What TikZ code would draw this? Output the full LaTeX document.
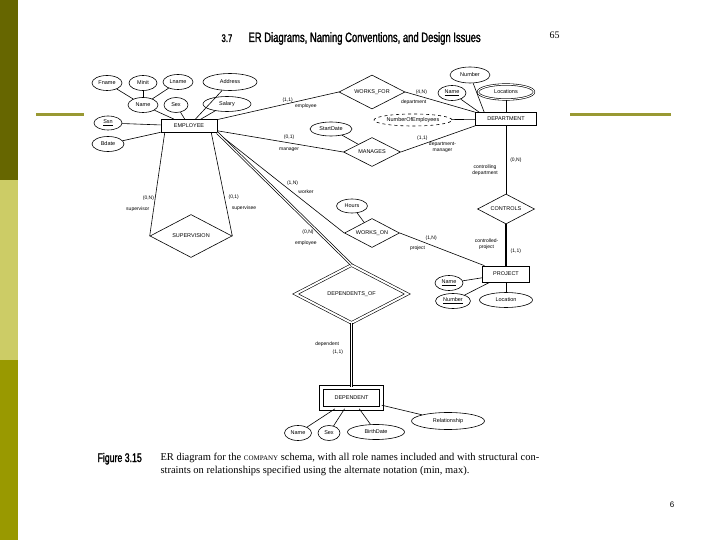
\documentclass[tikz,border=0pt]{standalone}
\usepackage{fontspec}
\setmainfont{Liberation Serif}
\setsansfont{Liberation Sans}
\newfontfamily\headfont[FakeStretch=0.7,FakeBold=1.5]{Liberation Sans}
\usetikzlibrary{shapes.geometric,positioning}
\definecolor{bardark}{HTML}{666600}
\definecolor{barlight}{HTML}{CCCC66}
\definecolor{barmid}{HTML}{999900}
\definecolor{rulecol}{HTML}{999933}

\begin{document}
\begin{tikzpicture}[
    x=1pt, y=-1pt,
    entity/.style={rectangle, draw, line width=0.6pt, inner sep=0pt, minimum width=#1, minimum height=13pt, font=\sffamily\fontsize{5.5}{6}\selectfont},
    attrib/.style={ellipse, draw, line width=0.6pt, inner sep=0pt, minimum width=#1, minimum height=15pt, font=\sffamily\fontsize{5.5}{6}\selectfont},
    relation/.style 2 args={diamond, aspect=2, draw, line width=0.6pt, inner sep=0pt, minimum width=#1, minimum height=#2, font=\sffamily\fontsize{5.5}{6}\selectfont},
    role/.style={font=\sffamily\fontsize{5}{6}\selectfont, inner sep=1pt},
    link/.style={line width=0.6pt},
    twolink/.style={line width=1pt, double, double distance=1.2pt}
]
\useasboundingbox (0,0) rectangle (720,540);
\fill[white] (0,0) rectangle (720,540);

% slide frame
\fill[bardark] (0,0) rectangle (18,180);
\fill[barlight] (0,180) rectangle (18,360);
\fill[barmid] (0,360) rectangle (18,540);
\draw[rulecol, line width=3pt] (36,114.5) -- (84,114.5);
\draw[rulecol, line width=3pt] (570,114.5) -- (671,114.5);

% page head
\node[anchor=base west, font=\headfont\fontsize{11}{12}\selectfont] (secnum) at (218,42) {3.7};
\node[anchor=base west, font=\headfont\fontsize{13.5}{14}\selectfont] (sectitle) at (245,42) {ER Diagrams, Naming Conventions, and Design Issues};
\node[anchor=base west, font=\rmfamily\fontsize{10}{12}\selectfont] (pageno) at (546,39) {65};

% EMPLOYEE
\node[entity=56] (emp) at (189,126) {EMPLOYEE};
\node[attrib=30] (fname) at (107,83) {Fname};
\node[attrib=28] (minit) at (143,83) {Minit};
\node[attrib=30] (lname) at (178,82) {Lname};
\node[attrib=54, minimum height=17pt] (address) at (230,82) {Address};
\node[attrib=30] (ename) at (143,105) {Name};
\node[attrib=24] (esex) at (176,105) {Sex};
\node[attrib=48] (salary) at (227,104) {Salary};
\node[attrib=28, minimum height=14pt] (ssn) at (108,123) {\underline{Ssn}};
\node[attrib=32] (bdate) at (108,144) {Bdate};

\draw[link] (fname) -- (ename);
\draw[link] (minit) -- (ename);
\draw[link] (lname) -- (ename);
\draw[link] (ename) -- (emp);
\draw[link] (esex) -- (emp);
\draw[link] (address) -- (emp);
\draw[link] (salary) -- (emp);
\draw[link] (ssn) -- (emp);
\draw[link] (bdate) -- (emp);

% DEPARTMENT
\node[entity=61] (dept) at (506,119) {DEPARTMENT};
\node[attrib=40, minimum height=16pt] (dnumber) at (470,75) {Number};
\node[attrib=28] (dname) at (452,93) {\underline{Name}};
\node[attrib=56, double, double distance=1pt] (locations) at (506,92) {Locations};
\node[attrib=78, minimum height=12pt, dashed] (numemp) at (413,120) {NumberOfEmployees};

\draw[link] (dnumber) -- ([xshift=9pt]dept.north west);
\draw[link] (dname) -- ([xshift=4pt]dept.north west);
\draw[link] (locations) -- (dept);
\draw[link] (numemp) -- (dept);

% relationships
\node[relation={66}{34}] (worksfor) at (372,92) {WORKS\_FOR};
\node[relation={57}{29}] (manages) at (372,152) {MANAGES};
\node[relation={57}{30}] (controls) at (506,209) {CONTROLS};
\node[relation={55}{29}] (workson) at (372,233) {WORKS\_ON};
\node[relation={82}{43}] (supervision) at (191,236) {SUPERVISION};
\node[relation={112}{58}, double, double distance=2pt] (depof) at (351.5,294) {DEPENDENTS\_OF};
\node[attrib=42, minimum height=14pt] (startdate) at (331,129) {StartDate};
\node[attrib=31, minimum height=14pt] (hours) at (352,206) {Hours};

\draw[link] (startdate) -- (manages);
\draw[link] (hours) -- (workson);

% PROJECT
\node[entity=47, minimum height=16pt] (proj) at (506,274) {PROJECT};
\node[attrib=28] (pname) at (449,283) {\underline{Name}};
\node[attrib=35] (pnumber) at (453,301) {\underline{Number}};
\node[attrib=53] (plocation) at (506,300) {Location};

\draw[link] (pname) -- (proj);
\draw[link] (pnumber) -- (proj);
\draw[link] (plocation) -- (proj);

% DEPENDENT
\node[entity=60, minimum height=21pt, double, double distance=3pt] (dep) at (351.5,398) {DEPENDENT};
\node[attrib=27] (dpname) at (298,433) {Name};
\node[attrib=22] (dpsex) at (329,433) {Sex};
\node[attrib=57] (birth) at (376,432) {BirthDate};
\node[attrib=73, minimum height=17pt] (relship) at (448,421) {Relationship};

\draw[link] (dpname) -- (dep);
\draw[link] (dpsex) -- (dep);
\draw[link] (birth) -- (dep);
\draw[link] (relship) -- (dep);

% role names and (min,max)
\draw[link] (emp) -- node[role, pos=0.58, above] {(1,1)} node[role, pos=0.73, below=3pt] {employee} (worksfor.west);
\draw[link] (worksfor.east) -- node[role, pos=0.23, above=1pt] {(4,N)} node[role, pos=0.12, below=4pt] {department} (dept.north west);
\draw[link] (emp) -- node[role, pos=0.57, above=2pt] {(0,1)} node[role, pos=0.57, below=4pt] {manager} (manages.west);
\draw[link] (manages.east) -- node[role, pos=0.29, above=3pt] {(1,1)} node[role, pos=0.56, below=3pt, align=center] {department-\\manager} (dept.south west);
\draw[link] (dept) -- node[role, pos=0.5, right=3pt] {(0,N)} node[role, pos=0.65, left=7pt, align=center] {controlling\\department} (controls);
\draw[link, line width=1.4pt] (controls) -- node[role, pos=0.48, left=6pt, align=center] {controlled-\\project} node[role, pos=0.64, right=3pt] {(1,1)} (proj);
\draw[link] (emp.south east) -- node[role, pos=0.5, right=5pt] {(1,N)} node[role, pos=0.59, right=5pt] {worker} (workson.west);
\draw[link] (workson.east) -- node[role, pos=0.37, above=3pt] {(1,N)} node[role, pos=0.21, below=5pt] {project} (proj);
\draw[twolink, line width=0.7pt] (emp.south east) -- node[role, pos=0.75, left=3pt] {(0,N)} node[role, pos=0.84, left=12pt] {employee} (depof.north);
\draw[twolink] (depof.south) -- node[role, pos=0.33, left=11pt] {dependent} node[role, pos=0.45, left=7pt] {(1,1)} (dep.north);
\draw[link] ([xshift=4pt]emp.south west) -- node[role, pos=0.63, left=0pt] {(0,N)} node[role, pos=0.74, left=3pt] {supervisor} (supervision.west);
\draw[link] ([xshift=-6pt]emp.south east) -- node[role, pos=0.62, right=3pt] {(0,1)} node[role, pos=0.73, right=4pt] {supervisee} (supervision.east);

% caption
\node[anchor=base west, font=\headfont\fontsize{12.5}{13}\selectfont] (figlabel) at (94,462) {Figure 3.15};
\node[anchor=base west, font=\rmfamily\fontsize{10.5}{12}\selectfont] (capone) at (157,460) {ER diagram for the {\fontsize{7}{8}\selectfont COMPANY} schema, with all role names included and with structural con-};
\node[anchor=base west, font=\rmfamily\fontsize{10.5}{12}\selectfont] (captwo) at (157,473) {straints on relationships specified using the alternate notation (min, max).};

\node[font=\sffamily\fontsize{8}{9}\selectfont] (slideno) at (672,505) {6};
\end{tikzpicture}
\end{document}
